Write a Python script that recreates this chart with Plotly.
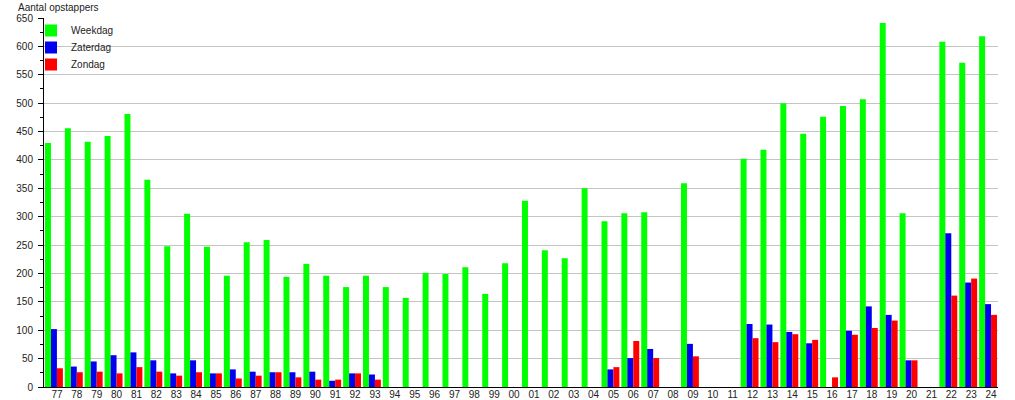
import plotly.graph_objects as go

years = ["77","78","79","80","81","82","83","84","85","86","87","88","89","90","91","92","93","94","95","96","97","98","99",
         "00","01","02","03","04","05","06","07","08","09","10","11","12","13","14","15","16","17","18","19","20","21","22","23","24"]

weekdag = [430,456,432,442,481,365,248,305,247,196,255,259,194,217,196,176,196,176,157,201,199,211,164,
           218,328,241,227,350,292,306,308,None,359,None,None,402,418,500,446,476,495,507,641,306,None,608,571,618]

zaterdag = [102,36,45,56,61,47,24,47,24,31,27,26,26,27,11,24,22,None,None,None,None,None,None,
            None,None,None,None,None,31,51,67,None,76,None,None,111,110,97,77,None,99,142,127,47,None,271,184,146]

zondag = [33,26,27,24,35,27,20,26,24,15,20,26,17,13,13,24,13,None,None,None,None,None,None,
          None,None,None,None,None,35,81,51,None,54,None,None,86,79,93,83,17,92,104,117,47,None,161,191,127]

series_names = ["Weekdag", "Zaterdag", "Zondag"]
series_colors = ["#00ff00", "#0000f0", "#ff0000"]
legend_ids = ["legend", "legend2", "legend3"]

W, H = 1015, 400
ML, MR, MT, MB = 44, 17, 18, 13
PW, PH = W - ML - MR, H - MT - MB

fig = go.Figure()
for name, vals, col, lg in zip(series_names, [weekdag, zaterdag, zondag], series_colors, legend_ids):
    fig.add_trace(go.Bar(x=years, y=vals, name=name, legend=lg,
                         marker=dict(color=col, line=dict(width=0))))

font = "Liberation Sans, Arial, sans-serif"
lx = -13 / PW
def leg(top_px):
    return dict(x=lx, y=1 - (top_px - MT) / PH, xanchor="left", yanchor="top",
                bgcolor="rgba(0,0,0,0)", font=dict(size=10, color="#222"))

fig.update_layout(
    width=W, height=H,
    margin=dict(l=ML, r=MR, t=MT, b=MB, autoexpand=False),
    paper_bgcolor="white", plot_bgcolor="white",
    barmode="group", bargap=0.1, bargroupgap=0,
    font=dict(family=font, size=10, color="#222"),
    title=dict(text="Aantal opstappers", x=18/W, xref="container", xanchor="left",
               y=1-7/H, yref="container", yanchor="middle", font=dict(size=10, color="#222")),
    showlegend=True,
    legend=leg(16),
    legend2=leg(33),
    legend3=leg(50),
    xaxis=dict(type="category", showline=True, linecolor="black", linewidth=1, automargin=False,
               ticks="", showgrid=False, tickfont=dict(size=10),
               ticklabelstandoff=-2, ticklabelshift=3),
    yaxis=dict(range=[0, 650], dtick=50, tick0=0, showline=True, linecolor="black", linewidth=1,
               automargin=False,
               ticks="outside", ticklen=5, tickcolor="black", showgrid=True, gridcolor="#c4c4c4",
               gridwidth=1, zeroline=False, ticklabelstandoff=3,
               minor=dict(dtick=25, ticks="outside", ticklen=3, tickcolor="black", showgrid=False),
               tickfont=dict(size=10)),
)

fig.write_html("out.html", config={"displayModeBar": False},
               post_script="document.body.style.margin='0';")
